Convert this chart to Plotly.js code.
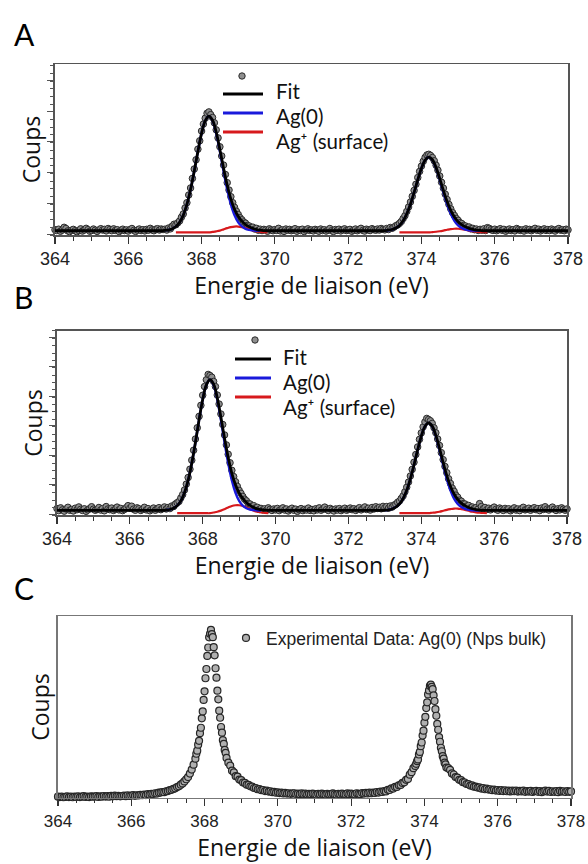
<!DOCTYPE html>
<html>
<head>
<meta charset="utf-8">
<script src="https://cdn.plot.ly/plotly-3.0.1.min.js"></script>
<style>html,body{margin:0;padding:0;background:#fff;}#chart{width:588px;height:864px;}</style>
</head>
<body>
<div id="chart"></div>
<script>
// ---------- energy axes (eV) ----------
const energy = [
364,364.05,364.1,364.15,364.2,364.25,364.3,364.35,364.4,364.45,364.5,364.55,364.6,364.65,364.7,364.75,364.8,364.85,364.9,364.95,
365,365.05,365.1,365.15,365.2,365.25,365.3,365.35,365.4,365.45,365.5,365.55,365.6,365.65,365.7,365.75,365.8,365.85,365.9,365.95,
366,366.05,366.1,366.15,366.2,366.25,366.3,366.35,366.4,366.45,366.5,366.55,366.6,366.65,366.7,366.75,366.8,366.85,366.9,366.95,
367,367.05,367.1,367.15,367.2,367.25,367.3,367.35,367.4,367.45,367.5,367.55,367.6,367.65,367.7,367.75,367.8,367.85,367.9,367.95,
368,368.05,368.1,368.15,368.2,368.25,368.3,368.35,368.4,368.45,368.5,368.55,368.6,368.65,368.7,368.75,368.8,368.85,368.9,368.95,
369,369.05,369.1,369.15,369.2,369.25,369.3,369.35,369.4,369.45,369.5,369.55,369.6,369.65,369.7,369.75,369.8,369.85,369.9,369.95,
370,370.05,370.1,370.15,370.2,370.25,370.3,370.35,370.4,370.45,370.5,370.55,370.6,370.65,370.7,370.75,370.8,370.85,370.9,370.95,
371,371.05,371.1,371.15,371.2,371.25,371.3,371.35,371.4,371.45,371.5,371.55,371.6,371.65,371.7,371.75,371.8,371.85,371.9,371.95,
372,372.05,372.1,372.15,372.2,372.25,372.3,372.35,372.4,372.45,372.5,372.55,372.6,372.65,372.7,372.75,372.8,372.85,372.9,372.95,
373,373.05,373.1,373.15,373.2,373.25,373.3,373.35,373.4,373.45,373.5,373.55,373.6,373.65,373.7,373.75,373.8,373.85,373.9,373.95,
374,374.05,374.1,374.15,374.2,374.25,374.3,374.35,374.4,374.45,374.5,374.55,374.6,374.65,374.7,374.75,374.8,374.85,374.9,374.95,
375,375.05,375.1,375.15,375.2,375.25,375.3,375.35,375.4,375.45,375.5,375.55,375.6,375.65,375.7,375.75,375.8,375.85,375.9,375.95,
376,376.05,376.1,376.15,376.2,376.25,376.3,376.35,376.4,376.45,376.5,376.55,376.6,376.65,376.7,376.75,376.8,376.85,376.9,376.95,
377,377.05,377.1,377.15,377.2,377.25,377.3,377.35,377.4,377.45,377.5,377.55,377.6,377.65,377.7,377.75,377.8,377.85,377.9,377.95,
378];

const energyFit = [
364,364.1,364.2,364.3,364.4,364.5,364.6,364.7,364.8,364.9,
365,365.1,365.2,365.3,365.4,365.5,365.6,365.7,365.8,365.9,
366,366.1,366.2,366.3,366.4,366.5,366.6,366.7,366.8,366.9,
367,367.1,367.2,367.3,367.4,367.5,367.6,367.7,367.8,367.9,
368,368.1,368.2,368.3,368.4,368.5,368.6,368.7,368.8,368.9,
369,369.1,369.2,369.3,369.4,369.5,369.6,369.7,369.8,369.9,
370,370.1,370.2,370.3,370.4,370.5,370.6,370.7,370.8,370.9,
371,371.1,371.2,371.3,371.4,371.5,371.6,371.7,371.8,371.9,
372,372.1,372.2,372.3,372.4,372.5,372.6,372.7,372.8,372.9,
373,373.1,373.2,373.3,373.4,373.5,373.6,373.7,373.8,373.9,
374,374.1,374.2,374.3,374.4,374.5,374.6,374.7,374.8,374.9,
375,375.1,375.2,375.3,375.4,375.5,375.6,375.7,375.8,375.9,
376,376.1,376.2,376.3,376.4,376.5,376.6,376.7,376.8,376.9,
377,377.1,377.2,377.3,377.4,377.5,377.6,377.7,377.8,377.9,
378];

const compX = [367,367.1,367.2,367.3,367.4,367.5,367.6,367.7,367.8,367.9,368,368.1,368.2,368.3,368.4,368.5,368.6,368.7,368.8,368.9,369,369.1,369.2,369.3,369.4,369.5,369.6,
null,
373,373.1,373.2,373.3,373.4,373.5,373.6,373.7,373.8,373.9,374,374.1,374.2,374.3,374.4,374.5,374.6,374.7,374.8,374.9,375,375.1,375.2,375.3,375.4,375.5,375.6];

const surfX = [367.3,367.4,367.5,367.6,367.7,367.8,367.9,368,368.1,368.2,368.3,368.4,368.5,368.6,368.7,368.8,368.9,369,369.1,369.2,369.3,369.4,369.5,369.6,369.7,369.8,
null,
373.4,373.5,373.6,373.7,373.8,373.9,374,374.1,374.2,374.3,374.4,374.5,374.6,374.7,374.8,374.9,375,375.1,375.2,375.3,375.4,375.5,375.6,375.7,375.8];

const energyC = [
364,364.05,364.1,364.15,364.2,364.25,364.3,364.35,364.4,364.45,364.5,364.55,364.6,364.65,364.7,364.75,364.8,364.85,364.9,364.95,
365,365.05,365.1,365.15,365.2,365.25,365.3,365.35,365.4,365.45,365.5,365.55,365.6,365.65,365.7,365.75,365.8,365.85,365.9,365.95,
366,366.05,366.1,366.15,366.2,366.25,366.3,366.35,366.4,366.45,366.5,366.55,366.6,366.65,366.7,366.75,366.8,366.85,366.9,366.95,
367,367.05,367.1,367.15,367.2,367.25,367.3,367.35,367.4,367.45,367.5,367.55,367.6,367.65,367.7,367.75,
367.775,367.8,367.825,367.85,367.875,367.9,367.925,367.95,367.975,368,368.025,368.05,368.075,368.1,368.125,368.15,368.175,
368.2,368.225,368.25,368.275,368.3,368.325,368.35,368.375,368.4,368.425,368.45,368.475,368.5,368.525,368.55,368.575,368.6,
368.65,368.7,368.75,368.8,368.85,368.9,368.95,
369,369.05,369.1,369.15,369.2,369.25,369.3,369.35,369.4,369.45,369.5,369.55,369.6,369.65,369.7,369.75,369.8,369.85,369.9,369.95,
370,370.05,370.1,370.15,370.2,370.25,370.3,370.35,370.4,370.45,370.5,370.55,370.6,370.65,370.7,370.75,370.8,370.85,370.9,370.95,
371,371.05,371.1,371.15,371.2,371.25,371.3,371.35,371.4,371.45,371.5,371.55,371.6,371.65,371.7,371.75,371.8,371.85,371.9,371.95,
372,372.05,372.1,372.15,372.2,372.25,372.3,372.35,372.4,372.45,372.5,372.55,372.6,372.65,372.7,372.75,372.8,372.85,372.9,372.95,
373,373.05,373.1,373.15,373.2,373.25,373.3,373.35,373.4,373.45,373.5,373.55,373.6,373.65,373.7,373.75,
373.775,373.8,373.825,373.85,373.875,373.9,373.925,373.95,373.975,374,374.025,374.05,374.075,374.1,374.125,374.15,374.175,
374.2,374.225,374.25,374.275,374.3,374.325,374.35,374.375,374.4,374.425,374.45,374.475,374.5,374.525,374.55,374.575,374.6,
374.65,374.7,374.75,374.8,374.85,374.9,374.95,
375,375.05,375.1,375.15,375.2,375.25,375.3,375.35,375.4,375.45,375.5,375.55,375.6,375.65,375.7,375.75,375.8,375.85,375.9,375.95,
376,376.05,376.1,376.15,376.2,376.25,376.3,376.35,376.4,376.45,376.5,376.55,376.6,376.65,376.7,376.75,376.8,376.85,376.9,376.95,
377,377.05,377.1,377.15,377.2,377.25,377.3,377.35,377.4,377.45,377.5,377.55,377.6,377.65,377.7,377.75,377.8,377.85,377.9,377.95,
378];

// ---------- panel A ----------
const countsA = [
3.1,2.6,3.4,2.2,2.9,4.5,3.8,2.4,2.0,2.8,3.3,2.5,1.9,2.7,3.6,2.3,2.9,3.9,3.1,2.2,
2.6,3.5,2.8,2.1,3.0,3.7,2.9,3.3,2.4,3.8,3.2,2.5,3.6,2.7,3.1,2.0,2.8,3.4,2.6,3.0,
2.3,3.2,3.8,2.7,2.1,2.9,3.5,2.6,3.1,2.4,3.3,2.8,3.9,3.0,2.5,3.4,3.7,2.9,3.5,3.2,
3.4,2.9,4.1,3.6,5.2,6.3,6.0,7.1,8.2,10.4,12.3,15.8,18.9,23.4,27.5,33.1,38.6,44.0,50.2,55.1,
60.8,64.9,68.3,71.2,72.0,70.4,68.7,65.6,61.5,56.8,51.6,46.2,40.9,35.4,30.6,26.3,22.4,18.9,16.2,13.9,
12.0,10.1,8.9,7.6,6.9,5.6,5.3,4.4,4.6,3.5,3.9,2.8,3.4,2.6,3.3,2.9,2.2,3.6,3.0,2.5,
3.2,2.7,3.9,2.4,3.0,2.1,3.5,2.8,3.3,2.5,2.9,3.7,2.2,3.1,2.6,3.4,2.0,2.9,3.6,2.7,
3.0,2.4,3.3,2.8,2.2,3.5,2.6,3.1,2.3,2.9,3.8,2.5,2.1,3.2,2.7,3.4,2.4,3.0,3.6,2.6,
2.9,3.3,2.2,2.8,3.5,2.5,3.1,3.9,2.7,2.3,3.4,3.0,2.6,3.7,3.2,2.8,3.5,2.9,3.8,3.3,
3.0,3.8,3.2,4.4,3.9,4.6,5.4,5.9,6.8,7.9,9.6,11.3,13.8,16.4,19.3,22.6,26.1,29.7,33.6,37.2,
40.3,43.1,45.4,46.8,47.2,46.5,45.3,43.4,40.8,37.9,34.5,30.8,27.4,23.9,20.8,17.9,15.3,13.1,11.4,9.7,
8.6,7.2,6.7,5.6,5.3,4.4,4.7,3.6,3.9,3.1,3.5,2.7,3.3,2.8,3.6,2.6,4.3,3.9,3.1,2.7,
3.4,2.5,3.0,3.7,2.8,3.3,2.2,2.9,3.5,2.6,3.1,2.4,3.8,3.2,2.7,3.0,2.3,3.6,2.9,3.3,
2.5,3.1,3.9,2.8,3.4,2.4,3.0,3.6,2.7,3.2,2.6,3.5,2.9,2.3,3.3,3.8,2.8,3.1,2.5,3.4,
3.0];

const fitA = [
2.5,2.5,2.5,2.5,2.5,2.5,2.5,2.5,2.5,2.5,
2.5,2.5,2.5,2.5,2.5,2.5,2.5,2.5,2.5,2.5,
2.5,2.5,2.5,2.5,2.5,2.5,2.5,2.5,2.5,2.5,
2.7,3.0,3.6,5.0,7.4,11.5,17.9,26.6,37.3,48.9,
59.4,66.8,69.5,67.1,60.1,50.0,39.1,29.1,21.0,15.0,
10.9,8.1,6.1,4.8,3.8,3.2,2.8,2.6,2.5,2.5,
2.5,2.5,2.5,2.5,2.5,2.5,2.5,2.5,2.5,2.5,
2.5,2.5,2.5,2.5,2.5,2.5,2.5,2.5,2.5,2.5,
2.5,2.5,2.5,2.5,2.5,2.5,2.5,2.5,2.5,2.5,
2.6,2.8,3.2,4.1,5.6,8.3,12.4,18.0,24.9,32.3,
39.0,43.8,45.5,44.0,39.4,33.0,26.0,19.6,14.4,10.5,
7.8,6.1,4.8,3.9,3.3,2.9,2.7,2.5,2.5,2.5,
2.5,2.5,2.5,2.5,2.5,2.5,2.5,2.5,2.5,2.5,
2.5,2.5,2.5,2.5,2.5,2.5,2.5,2.5,2.5,2.5,
2.5];

const ag0A = [2.7,3.0,3.6,5.0,7.4,11.5,17.9,26.6,37.3,48.9,59.4,66.8,69.5,66.8,59.4,48.9,37.3,26.6,17.9,11.5,7.4,5.0,3.6,3.0,2.7,2.5,2.5,
null,
2.6,2.8,3.2,4.1,5.6,8.3,12.4,18.0,24.9,32.3,39.0,43.8,45.5,43.8,39.0,32.3,24.9,18.0,12.4,8.3,5.6,4.1,3.2,2.8,2.6,2.5,2.5];

const agSurfA = [1.5,1.5,1.5,1.5,1.5,1.5,1.5,1.5,1.5,1.5,1.8,2.15,2.6,3.3,4.0,4.6,4.95,4.95,4.6,4.0,3.3,2.6,2.15,1.8,1.6,1.5,
null,
1.5,1.5,1.5,1.5,1.5,1.5,1.5,1.5,1.5,1.7,1.9,2.2,2.6,3.05,3.45,3.65,3.65,3.45,3.05,2.6,2.2,1.9,1.7,1.6,1.5];

// ---------- panel B ----------
const countsB = [
3.5,2.4,3.9,2.8,2.1,3.3,4.2,2.6,3.0,2.2,3.7,2.9,4.4,3.1,2.5,3.4,2.0,2.8,3.6,4.5,
3.2,2.6,3.0,4.1,2.7,3.5,2.3,4.6,3.3,2.9,3.8,2.5,3.1,4.3,2.8,3.6,2.4,3.0,4.0,5.1,
3.7,4.8,3.2,2.6,3.9,3.4,2.5,3.1,4.2,2.8,3.5,2.3,3.0,3.8,2.6,3.3,4.0,2.9,3.6,4.4,
3.3,4.1,3.5,4.9,4.6,6.0,6.7,7.4,9.3,11.1,13.6,16.8,20.4,24.9,29.8,35.2,41.3,47.4,53.6,59.6,
65.1,69.8,73.5,76.4,75.8,74.9,72.6,69.8,65.2,60.3,54.9,49.2,43.5,38.1,33.0,28.4,24.3,20.9,18.1,15.6,
13.4,11.8,10.1,8.6,7.7,6.3,6.0,4.8,5.1,3.9,4.2,3.0,3.6,2.8,3.4,2.6,3.9,3.1,2.5,3.3,
2.8,3.6,2.4,3.1,3.9,2.7,3.3,2.2,3.0,3.7,2.6,3.2,2.0,2.9,3.5,2.4,3.1,2.7,3.8,2.5,
3.0,2.3,3.4,2.8,3.9,2.6,3.2,4.3,3.0,2.5,3.6,2.9,2.2,3.3,2.7,3.5,2.4,3.0,3.7,2.6,
3.1,3.8,2.9,3.4,2.5,3.2,4.0,2.8,3.5,4.4,3.0,3.7,2.7,4.1,3.3,4.5,3.6,4.2,3.4,4.7,
3.9,4.6,3.7,4.9,4.3,5.4,5.8,6.9,7.6,9.0,10.4,12.6,15.1,17.9,21.2,24.8,28.7,32.9,37.0,41.1,
44.6,47.9,50.6,52.5,51.9,51.2,49.8,47.4,44.7,41.3,37.8,33.9,30.1,26.4,23.0,19.7,17.2,14.6,12.9,10.8,
9.7,8.1,7.5,6.2,6.0,4.9,5.2,3.9,4.4,3.5,4.0,3.1,6.2,4.6,3.4,4.1,3.0,3.7,2.8,3.5,
4.3,3.1,2.6,3.8,3.2,2.5,3.6,2.9,3.4,2.3,3.0,3.9,2.7,3.3,2.4,3.5,4.2,2.8,3.1,3.7,
2.6,3.3,4.0,2.9,3.5,2.4,3.8,3.0,4.5,3.2,2.7,3.6,4.3,3.1,2.5,3.4,2.8,3.9,3.2,2.6,
3.3];

const fitB = [
2.5,2.5,2.5,2.5,2.5,2.5,2.5,2.5,2.5,2.5,
2.5,2.5,2.5,2.5,2.5,2.5,2.5,2.5,2.5,2.5,
2.5,2.5,2.5,2.5,2.5,2.5,2.5,2.5,2.5,2.5,
2.7,3.0,3.7,5.1,7.7,12.1,18.8,28.1,39.4,51.7,
62.8,70.7,73.5,71.1,63.6,53.1,41.6,31.2,22.7,16.4,
12.0,9.0,6.8,5.2,4.1,3.3,2.9,2.6,2.5,2.5,
2.5,2.5,2.5,2.5,2.5,2.5,2.5,2.5,2.5,2.5,
2.5,2.5,2.5,2.5,2.5,2.5,2.5,2.5,2.5,2.5,
2.5,2.5,2.5,2.5,2.5,2.5,2.5,2.5,2.5,2.5,
2.6,2.8,3.3,4.3,6.0,8.9,13.4,19.6,27.2,35.4,
42.8,48.1,50.0,48.3,43.3,36.2,28.5,21.4,15.6,11.4,
8.5,6.5,5.1,4.1,3.4,3.0,2.7,2.5,2.5,2.5,
2.5,2.5,2.5,2.5,2.5,2.5,2.5,2.5,2.5,2.5,
2.5,2.5,2.5,2.5,2.5,2.5,2.5,2.5,2.5,2.5,
2.5];

const ag0B = [2.7,3.0,3.7,5.1,7.7,12.1,18.8,28.1,39.4,51.7,62.8,70.7,73.5,70.7,62.8,51.7,39.4,28.1,18.8,12.1,7.7,5.1,3.7,3.0,2.7,2.5,2.5,
null,
2.6,2.8,3.3,4.3,6.0,8.9,13.4,19.6,27.2,35.4,42.8,48.1,50.0,48.1,42.8,35.4,27.2,19.6,13.4,8.9,6.0,4.3,3.3,2.8,2.6,2.5,2.5];

const agSurfB = [1.0,1.0,1.0,1.0,1.0,1.0,1.0,1.0,1.0,1.0,1.4,1.8,2.4,3.2,4.1,4.9,5.3,5.3,4.9,4.1,3.2,2.4,1.8,1.4,1.1,1.0,
null,
1.0,1.0,1.0,1.0,1.0,1.0,1.0,1.0,1.0,1.24,1.47,1.8,2.3,2.8,3.2,3.5,3.5,3.2,2.8,2.3,1.8,1.47,1.24,1.1,1.0];

// ---------- panel C ----------
const countsC = [
0.7,0.5,0.8,0.4,0.6,0.9,0.5,0.7,0.4,0.8,0.6,0.9,0.5,0.7,1.0,0.6,0.8,0.5,0.9,0.7,
0.8,1.0,0.6,0.9,0.7,1.1,0.8,1.0,0.7,1.2,0.9,1.3,1.0,1.2,0.9,1.1,1.3,1.0,1.4,1.1,
1.3,1.6,1.2,1.5,1.4,1.7,1.5,1.9,1.6,2.1,1.9,2.3,2.2,2.6,2.4,2.9,3.0,3.3,3.2,3.7,
3.8,4.3,4.5,5.0,5.3,6.0,6.4,7.3,8.0,9.1,10.3,11.5,13.4,15.6,18.3,21.6,
24.3,26.0,29.3,31.4,35.6,38.6,43.8,47.6,53.9,58.6,65.8,70.9,78.1,82.7,88.3,90.2,92.4,
90.1,88.4,82.9,78.4,71.3,66.1,59.0,54.2,48.0,44.1,39.0,35.9,31.8,29.7,26.4,24.8,22.0,
19.4,17.8,15.0,14.1,12.0,11.7,10.1,
9.8,8.5,8.3,7.3,7.2,6.4,6.3,5.5,5.4,4.8,4.9,4.3,4.4,3.8,4.0,3.5,3.7,3.2,3.4,2.9,
3.1,2.7,2.9,2.5,2.8,2.4,2.6,2.3,2.5,2.6,2.2,2.4,2.1,2.5,2.2,2.4,2.0,2.3,2.1,2.4,
2.2,1.9,2.3,2.0,2.4,2.1,1.9,2.3,2.0,2.2,2.5,2.1,1.9,2.3,2.0,2.4,2.2,2.0,2.5,2.1,
2.4,2.2,2.0,2.6,2.3,2.1,2.7,2.4,2.8,2.5,2.9,2.6,3.0,2.8,3.3,3.0,3.5,3.3,3.8,3.6,
4.5,4.4,5.3,5.2,6.1,6.1,7.0,7.2,8.3,8.6,10.0,10.5,12.8,14.2,16.4,17.6,
18.8,20.3,21.2,23.9,25.3,28.5,30.5,34.3,37.0,41.4,44.6,49.4,52.6,56.9,59.1,61.6,62.3,
61.1,59.8,56.4,53.3,48.8,45.2,40.7,37.5,33.5,30.9,27.6,25.7,23.0,21.6,19.4,18.5,16.7,
16.4,15.5,13.5,12.9,11.5,11.2,10.0,
9.8,8.7,8.5,7.7,7.6,6.8,6.9,6.2,6.2,5.7,5.8,5.2,5.4,4.8,5.1,4.6,4.8,4.3,4.6,4.1,
4.4,3.9,4.3,3.8,4.2,3.7,4.1,3.6,4.0,3.7,4.1,3.5,3.9,3.6,4.0,3.4,3.8,3.5,3.9,3.3,
3.7,3.9,3.4,3.8,3.2,3.6,4.0,3.5,3.9,3.3,3.7,3.4,3.8,3.2,3.9,3.5,3.7,3.3,3.8,3.4,
3.6];

// ---------- tick labels / legend labels ----------
const xTickVals = [364, 366, 368, 370, 372, 374, 376, 378];
const xTickText = ['364', '366', '368', '370', '372', '374', '376', '378'];
const legendLabels = ['Fit', 'Ag(0)', 'Ag\u207A (surface)'];
const legendLabelC = 'Experimental Data: Ag(0) (Nps bulk)';

[['A', energy, countsA], ['B', energy, countsB], ['C', energyC, countsC],
 ['fitA', energyFit, fitA], ['fitB', energyFit, fitB],
 ['ag0A', compX, ag0A], ['ag0B', compX, ag0B], ['surfA', surfX, agSurfA], ['surfB', surfX, agSurfB]]
.forEach(([n, x, y]) => { if (x.length !== y.length) throw new Error('length mismatch ' + n + ' ' + x.length + ' vs ' + y.length); });

const lato = 'Lato, "Open Sans", sans-serif';
const open = '"Open Sans", Lato, sans-serif';
const arial = '"Liberation Sans", Arial, sans-serif';
const colFit = '#000000', colAg0 = '#1a1adb', colSurf = '#d7191c';

const dataMarkerAB = {size: 6.5, color: '#8f8f8f', line: {color: '#2a2a2a', width: 1}};
const dataMarkerC = {size: 7, color: '#b0b0b0', line: {color: '#262626', width: 1.2}};

function panelTraces(xa, ya, counts, fit, ag0, surf) {
  return [
    {x: energy, y: counts, xaxis: xa, yaxis: ya, type: 'scatter', mode: 'markers', name: 'Experimental Data',
     marker: dataMarkerAB, showlegend: false, cliponaxis: false},
    {x: surfX, y: surf, xaxis: xa, yaxis: ya, type: 'scatter', mode: 'lines', name: legendLabels[2],
     line: {color: colSurf, width: 2.2, shape: 'spline'}, showlegend: false, connectgaps: false},
    {x: compX, y: ag0, xaxis: xa, yaxis: ya, type: 'scatter', mode: 'lines', name: legendLabels[1],
     line: {color: colAg0, width: 2.4, shape: 'spline'}, showlegend: false, connectgaps: false},
    {x: energyFit, y: fit, xaxis: xa, yaxis: ya, type: 'scatter', mode: 'lines', name: legendLabels[0],
     line: {color: colFit, width: 2.8, shape: 'spline'}, showlegend: false}
  ];
}

const traces = [
  ...panelTraces('x', 'y', countsA, fitA, ag0A, agSurfA),
  ...panelTraces('x2', 'y2', countsB, fitB, ag0B, agSurfB),
  {x: energyC, y: countsC, xaxis: 'x3', yaxis: 'y3', type: 'scatter', mode: 'markers',
   name: legendLabelC, marker: dataMarkerC, showlegend: true, cliponaxis: false}
];

function xAxis(domain, anchor, lineColor, tickSize) {
  return {
    domain: domain, anchor: anchor, range: [364, 378], autorange: false,
    tickmode: 'array', tickvals: xTickVals, ticktext: xTickText,
    ticks: 'outside', ticklen: 7, tickwidth: 1.2, tickcolor: '#333',
    minor: {dtick: 0.5, tick0: 364, ticks: 'outside', ticklen: 4, tickwidth: 1, tickcolor: '#333', showgrid: false},
    showline: true, linecolor: lineColor, linewidth: 1.5, mirror: true,
    showgrid: false, zeroline: false,
    tickfont: {family: arial, size: tickSize, color: '#222'},
    title: {text: 'Energie de liaison (eV)', font: {family: open, size: 23, color: '#111'}, standoff: 0},
    automargin: false
  };
}
function yAxis(domain, anchor, lineColor, ticked, dt, mdt) {
  const ax = {
    domain: domain, anchor: anchor, range: [0, 100], autorange: false,
    showline: true, linecolor: lineColor, linewidth: 1.5, mirror: true,
    showgrid: false, zeroline: false, showticklabels: false,
    title: {text: 'Coups', font: {family: open, size: 23, color: '#111'}, standoff: 0},
    automargin: false
  };
  if (ticked) {
    ax.ticks = 'outside'; ax.ticklen = 6; ax.tickwidth = 1; ax.tickcolor = '#555';
    ax.tick0 = 0.5; ax.dtick = dt;
    ax.minor = {dtick: mdt, ticks: 'outside', ticklen: 3, tickwidth: 1, tickcolor: '#555', showgrid: false};
  } else {
    ax.ticks = '';
  }
  return ax;
}

// ---- hand-placed legends for panels A and B (pixel positions in the 588x864 page) ----
const PX = v => v / 588, PY = v => 1 - v / 864;
const shapes = [], annotations = [];
function addLegend(marker, lineX, textX, rows) {
  shapes.push({type: 'circle', xref: 'paper', yref: 'paper',
               x0: PX(marker[0] - 3.2), x1: PX(marker[0] + 3.2), y0: PY(marker[1] + 3.2), y1: PY(marker[1] - 3.2),
               fillcolor: '#8f8f8f', line: {color: '#2a2a2a', width: 1}});
  const cols = [colFit, colAg0, colSurf];
  rows.forEach((r, i) => {
    shapes.push({type: 'line', xref: 'paper', yref: 'paper', x0: PX(lineX[0]), x1: PX(lineX[1]),
                 y0: PY(r[0]), y1: PY(r[0]), line: {color: cols[i], width: 3}});
    annotations.push({text: legendLabels[i], xref: 'paper', yref: 'paper', x: PX(textX), y: PY(r[1]),
                      xanchor: 'left', yanchor: 'middle', showarrow: false, borderpad: 0,
                      font: {family: lato, size: 20.5, color: '#111'}});
  });
}
addLegend([242, 76], [223, 263], 275, [[94, 91], [113, 116], [132, 141]]);
addLegend([255, 340], [235, 271], 282, [[359, 357], [378, 382], [397, 407]]);

[['A', 34], ['B', 297], ['C', 588]].forEach(([t, y]) => annotations.push(
  {text: t, xref: 'paper', yref: 'paper', x: PX(12), y: PY(y), xanchor: 'left', yanchor: 'middle',
   showarrow: false, font: {family: lato, size: 30, color: '#000'}}));

const layout = {
  width: 588, height: 864,
  margin: {l: 0, r: 0, t: 0, b: 0},
  paper_bgcolor: '#ffffff', plot_bgcolor: '#ffffff',
  showlegend: true,
  xaxis: xAxis([0.0935, 0.966], 'y', '#555', 18),
  yaxis: yAxis([0.728, 0.9259], 'x', '#555', true, 18, 4.5),
  xaxis2: xAxis([0.0969, 0.9643], 'y2', '#555', 18),
  yaxis2: yAxis([0.4039, 0.6169], 'x2', '#555', true, 16, 4),
  xaxis3: xAxis([0.0986, 0.9711], 'y3', '#777', 17),
  yaxis3: yAxis([0.0764, 0.287], 'x3', '#777', false),
  legend: {x: PX(226), y: PY(620), xanchor: 'left', yanchor: 'top', bgcolor: 'rgba(0,0,0,0)',
           font: {family: arial, size: 17.5, color: '#222'}, itemwidth: 30},
  shapes: shapes,
  annotations: annotations
};

Plotly.newPlot('chart', traces, layout, {displayModeBar: false, staticPlot: true});
</script>
</body>
</html>
